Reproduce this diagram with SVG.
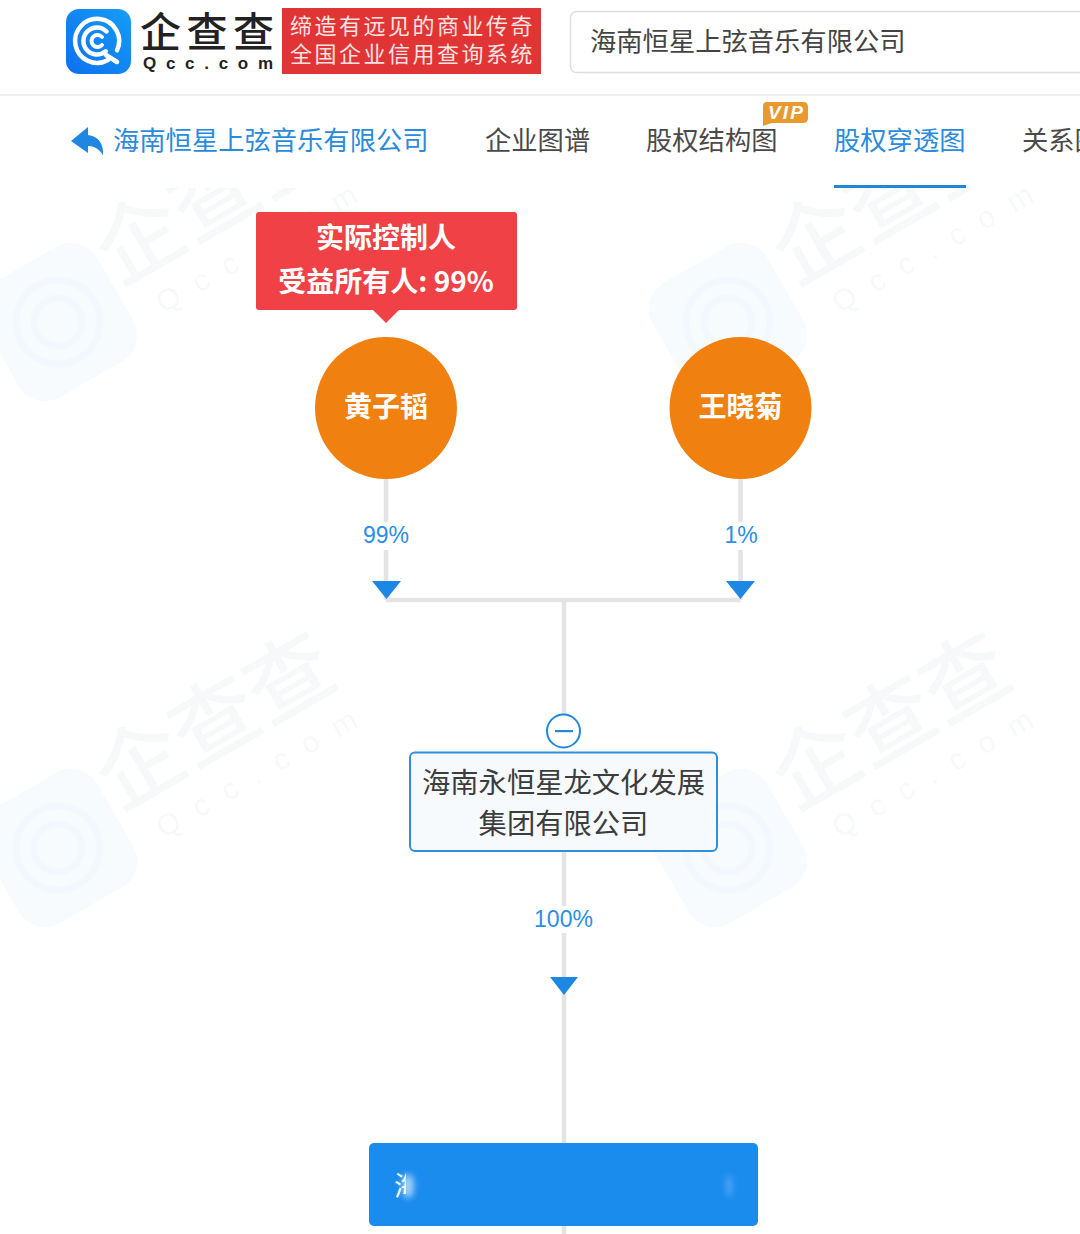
<svg xmlns="http://www.w3.org/2000/svg" width="1080" height="1234" viewBox="0 0 1080 1234">
<style>
text{font-family:"Noto Sans CJK SC","Liberation Sans",sans-serif}
.nav{font-size:26.3px;fill:#4a4a4a}
.act{font-size:26.3px;fill:#2a8bdc}
.slogan{font-size:22px;fill:#fbe3e3;letter-spacing:2.5px}
.pct{font-family:"Liberation Sans",sans-serif;font-size:23px;fill:#2a8fe6;text-anchor:middle}
.who{font-size:28px;font-weight:700;fill:#fff;text-anchor:middle}
.co{font-size:28.3px;fill:#3d3d3d;text-anchor:middle}
.line{stroke:#e4e4e4;stroke-width:4.5;fill:none}
.tri{fill:#1d87e4}
.wm{fill:#8f9fb0;opacity:.065;font-size:86px;font-weight:500}
.wmq{fill:#8f9fb0;opacity:.065;font-size:30px;letter-spacing:18px;font-family:"Liberation Sans",sans-serif}
.wmi{fill:#2a8fe6;opacity:.035}
.wmr{fill:none;stroke:#2a8fe6;stroke-width:7;opacity:.025}
</style>
<defs>
<linearGradient id="lg" x1="0" y1="1" x2="1" y2="0"><stop offset="0" stop-color="#0f6ff0"/><stop offset="1" stop-color="#159df5"/></linearGradient>
<clipPath id="half"><rect x="390" y="1160" width="16" height="50"/></clipPath>
<filter id="bl" x="-100%" y="-100%" width="300%" height="300%"><feGaussianBlur stdDeviation="3"/></filter>
<g id="wmark">
<rect x="-66" y="-66" width="132" height="132" rx="30" class="wmi"/>
<circle r="42" class="wmr"/><circle r="24" class="wmr"/>
</g>
</defs>
<rect width="1080" height="1234" fill="#fff"/>
<g id="watermark">
<use href="#wmark" transform="translate(58 322) rotate(-30)"/>
<use href="#wmark" transform="translate(728 322) rotate(-30)"/>
<use href="#wmark" transform="translate(58 848) rotate(-30)"/>
<use href="#wmark" transform="translate(728 848) rotate(-30)"/>
<g transform="translate(118 287) rotate(-30)"><text class="wm">企查查</text><text class="wmq" x="26" y="46">Qcc.com</text></g>
<g transform="translate(794 287) rotate(-30)"><text class="wm">企查查</text><text class="wmq" x="26" y="46">Qcc.com</text></g>
<g transform="translate(118 812) rotate(-30)"><text class="wm">企查查</text><text class="wmq" x="26" y="46">Qcc.com</text></g>
<g transform="translate(794 812) rotate(-30)"><text class="wm">企查查</text><text class="wmq" x="26" y="46">Qcc.com</text></g>
<rect x="0" y="0" width="1080" height="188" fill="#fff"/>
</g>
<g id="header">
<rect x="0" y="94" width="1080" height="2" fill="#eeeeee"/>
<rect x="66" y="9" width="65" height="65" rx="13" fill="url(#lg)"/>
<g fill="none" stroke="#fff" stroke-linecap="round">
<path d="M108 60A22 22 0 1 1 117 50.300" stroke-width="4.500"/>
<path d="M105.700 51.300A13.500 13.500 0 1 1 106.500 31.500" stroke-width="4.500"/>
<path d="M102 37A6 6 0 1 0 102 45" stroke-width="4"/>
<path d="M106 55L117 62" stroke-width="4.500"/>
</g>
<text x="140" y="47" font-size="41" font-weight="500" fill="#222" textLength="134" lengthAdjust="spacing">企查查</text>
<text x="143" y="69" style="font-family:'Liberation Sans',sans-serif" font-size="17" font-weight="700" fill="#222" textLength="130" lengthAdjust="spacing">Qcc.com</text>
<rect x="282" y="8" width="259" height="66" fill="#e13434"/>
<text class="slogan" x="290" y="34">缔造有远见的商业传奇</text>
<text class="slogan" x="290" y="62">全国企业信用查询系统</text>
<rect x="570.500" y="11.500" width="530" height="61" rx="6" fill="#fff" stroke="#dedede" stroke-width="1.500"/>
<text x="590" y="51" font-size="26.300" fill="#444">海南恒星上弦音乐有限公司</text>
</g>
<g id="nav">
<path d="M71 141L88 127V135C98 136 104 144 103 155C99 149 94 146 88 146V153Z" fill="#1f87e2"/>
<text class="act" x="113" y="150">海南恒星上弦音乐有限公司</text>
<text class="nav" x="485" y="150">企业图谱</text>
<text class="nav" x="646" y="150">股权结构图</text>
<path d="M767 102H803Q808 102 808 107V118Q808 123 803 123H772L763 126V106Q763 102 767 102Z" fill="#e8992f"/>
<text x="768" y="119" style="font-family:'Liberation Sans',sans-serif" font-size="19" font-weight="700" font-style="italic" fill="#fff" textLength="35">VIP</text>
<text class="act" x="834" y="150">股权穿透图</text>
<rect x="834" y="185" width="132" height="3" fill="#1f87d8"/>
<text class="nav" x="1022" y="150">关系图</text>
</g>
<g id="connectors">
<path class="line" d="M386 478V600M740.500 478V600M386 600H740.500M564 600V714M564 851V1143M564 1226V1234"/>
<rect x="355" y="522" width="62" height="28" fill="#fff"/>
<rect x="716" y="522" width="50" height="28" fill="#fff"/>
<rect x="530" y="906" width="68" height="27" fill="#fff"/>
<path class="tri" d="M372 581H401L386.500 599Z"/>
<path class="tri" d="M726 581H755L740.500 599Z"/>
<path class="tri" d="M550 977H578L564 995Z"/>
<text class="pct" x="386" y="543">99%</text>
<text class="pct" x="741" y="543">1%</text>
<text class="pct" x="563.500" y="927">100%</text>
</g>
<g id="tooltip">
<rect x="256" y="212" width="261" height="98" rx="3" fill="#f04146"/>
<path d="M373 310H399L386 323Z" fill="#f04146"/>
<text class="who" x="386" y="248">实际控制人</text>
<text class="who" x="386" y="292">受益所有人: 99%</text>
</g>
<g id="node-huang">
<circle cx="386" cy="408" r="71" fill="#f08010"/>
<text class="who" x="386" y="417">黄子韬</text>
</g>
<g id="node-wang">
<circle cx="740.500" cy="408" r="71" fill="#f08010"/>
<text class="who" x="740.500" y="417">王晓菊</text>
</g>
<g id="node-group">
<circle cx="563.500" cy="731" r="16.500" fill="#fff" stroke="#2387dc" stroke-width="2"/>
<rect x="555" y="730" width="18" height="2.200" fill="#2387dc"/>
<rect x="410" y="752.500" width="307" height="98.500" rx="5" fill="#f6fafd" stroke="#2f8fdc" stroke-width="2"/>
<text class="co" x="563.500" y="793">海南永恒星龙文化发展</text>
<text class="co" x="563.500" y="834">集团有限公司</text>
</g>
<g id="node-target">
<rect x="369" y="1143" width="389" height="83" rx="5" fill="#1a8cee"/>
<ellipse cx="408" cy="1186" rx="6" ry="12" fill="#fff" opacity=".6" filter="url(#bl)"/>
<text x="394" y="1196" font-size="27" fill="#fff" clip-path="url(#half)">海</text>
<ellipse cx="729" cy="1186" rx="3" ry="11" fill="#fff" opacity=".25" filter="url(#bl)"/>
</g>
</svg>
